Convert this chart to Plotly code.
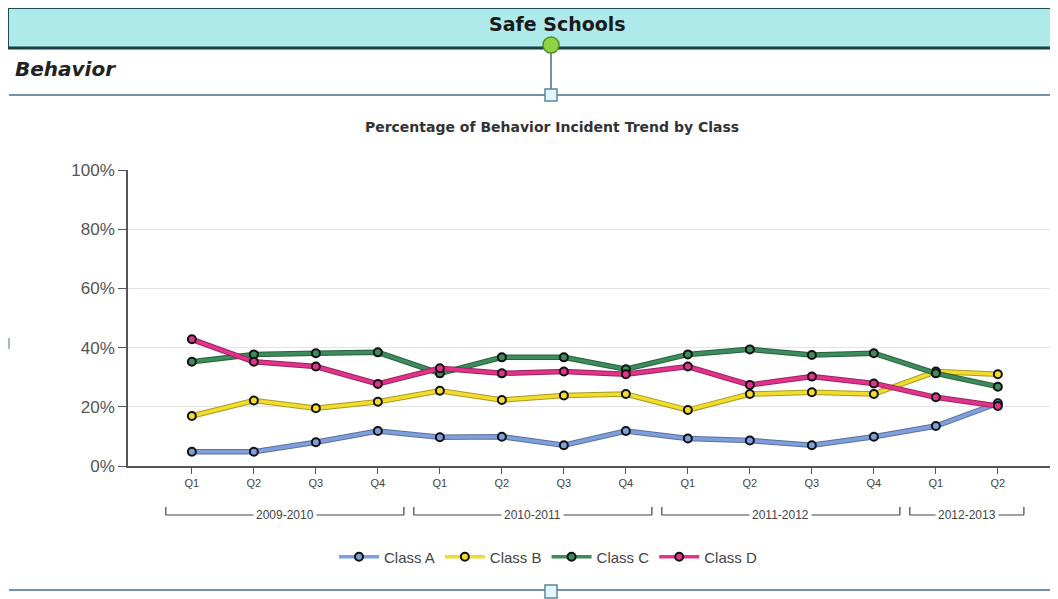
import plotly.graph_objects as go

quarters = ["Q1", "Q2", "Q3", "Q4", "Q1", "Q2", "Q3", "Q4", "Q1", "Q2", "Q3", "Q4", "Q1", "Q2"]
years = ["2009-2010", "2010-2011", "2011-2012", "2012-2013"]
year_counts = [4, 4, 4, 2]
y_ticks = [0, 20, 40, 60, 80, 100]
y_labels = ["0%", "20%", "40%", "60%", "80%", "100%"]

class_a = [4.8, 4.8, 8.0, 11.8, 9.7, 9.9, 7.0, 11.8, 9.3, 8.6, 7.0, 9.9, 13.5, 21.2]
class_b = [16.9, 22.1, 19.5, 21.7, 25.4, 22.3, 23.8, 24.3, 18.9, 24.3, 24.9, 24.3, 31.9, 31.0]
class_c = [35.2, 37.7, 38.1, 38.4, 31.3, 36.7, 36.7, 32.7, 37.7, 39.4, 37.5, 38.1, 31.3, 26.8]
class_d = [42.8, 35.2, 33.6, 27.7, 33.0, 31.3, 31.9, 31.0, 33.6, 27.4, 30.2, 27.9, 23.2, 20.3]

series = [
    ("Class A", class_a, "#7f9fdc", "#5a6f9a"),
    ("Class B", class_b, "#f2dc2c", "#a89a20"),
    ("Class C", class_c, "#3c8c5c", "#285f3e"),
    ("Class D", class_d, "#e2338c", "#9a2460"),
]

O = 8  # page body margin offset
W, H = 1058 - O, 599 - O
L, R, T, B = 128 - O, 0, 170 - O, 599 - 466
PW, PH = W - L - R, H - T - B


def px(x):
    return (x - O - L) / PW


def py(y):
    return (H - B - (y - O)) / PH


idx = list(range(len(quarters)))
fig = go.Figure()
for name, vals, col, dark in series:
    fig.add_trace(go.Scatter(
        x=idx, y=vals, mode="lines", showlegend=False, hoverinfo="skip",
        line=dict(color=dark, width=5.5),
    ))
    fig.add_trace(go.Scatter(
        x=idx, y=vals, name=name, mode="lines+markers",
        line=dict(color=col, width=3.5),
        marker=dict(size=8, color=col, line=dict(color="#111111", width=2)),
    ))

shapes = []
annos = []

# header bar
shapes.append(dict(type="rect", xref="paper", yref="paper", x0=px(8), x1=px(1064), y0=py(48), y1=py(8),
                   fillcolor="#aeeaea", line=dict(color="#1d4d55", width=2), layer="below"))
shapes.append(dict(type="line", xref="paper", yref="paper", x0=px(8), x1=px(1064), y0=py(48), y1=py(48),
                   line=dict(color="#1d3d45", width=3)))
annos.append(dict(text="<b>Safe Schools</b>", xref="paper", yref="paper", x=px(557), y=py(24),
                  xanchor="center", yanchor="middle",
                  showarrow=False, font=dict(family="DejaVu Sans", size=19, color="#1a1a1a")))
annos.append(dict(text="<b><i>Behavior</i></b>", xref="paper", yref="paper", x=px(13), y=py(69),
                  xanchor="left", yanchor="middle",
                  showarrow=False, font=dict(family="DejaVu Sans", size=20, color="#222222")))

# connector / separator lines
shapes.append(dict(type="line", xref="paper", yref="paper", x0=px(9), x1=px(1064), y0=py(95), y1=py(95),
                   line=dict(color="#7890a4", width=2)))
shapes.append(dict(type="line", xref="paper", yref="paper", x0=px(551), x1=px(551), y0=py(52), y1=py(90),
                   line=dict(color="#7890a4", width=2)))
shapes.append(dict(type="circle", xref="paper", yref="paper", x0=px(543), x1=px(559), y0=py(53), y1=py(37),
                   fillcolor="#8fd444", line=dict(color="#4f8f1f", width=1.5)))
shapes.append(dict(type="rect", xref="paper", yref="paper", x0=px(545), x1=px(557), y0=py(101), y1=py(89),
                   fillcolor="#e4f6fc", line=dict(color="#5b85a0", width=1.5)))
shapes.append(dict(type="line", xref="paper", yref="paper", x0=px(9), x1=px(1064), y0=py(590), y1=py(590),
                   line=dict(color="#7890a4", width=2)))
shapes.append(dict(type="rect", xref="paper", yref="paper", x0=px(545), x1=px(557), y0=py(598), y1=py(585),
                   fillcolor="#e4f6fc", line=dict(color="#5b85a0", width=1.5)))
shapes.append(dict(type="line", xref="paper", yref="paper", x0=px(9), x1=px(9), y0=py(338), y1=py(349),
                   line=dict(color="#8aa0b4", width=1.5)))

# year brackets
start = 0
by = py(515)
by_top = py(507)
for yr, cnt in zip(years, year_counts):
    a = start - 0.42
    b = start + cnt - 1 + 0.42
    shapes.append(dict(type="line", xref="x", yref="paper", x0=a, x1=b, y0=by, y1=by,
                       line=dict(color="#444444", width=1.2)))
    shapes.append(dict(type="line", xref="x", yref="paper", x0=a, x1=a, y0=by, y1=by_top,
                       line=dict(color="#444444", width=1.2)))
    shapes.append(dict(type="line", xref="x", yref="paper", x0=b, x1=b, y0=by, y1=by_top,
                       line=dict(color="#444444", width=1.2)))
    annos.append(dict(text=yr, xref="x", yref="paper", x=start + (cnt - 1) / 2, y=by,
                      xanchor="center", yanchor="middle",
                      showarrow=False, bgcolor="white", borderpad=2,
                      font=dict(family="Liberation Sans", size=12, color="#444444")))
    start += cnt

fig.update_layout(
    width=W, height=H,
    margin=dict(l=L, r=R, t=T, b=B, pad=0),
    paper_bgcolor="white", plot_bgcolor="white",
    title=dict(text="<b>Percentage of Behavior Incident Trend by Class</b>", x=(552 - O) / W, xanchor="center",
               y=1 - (127 - O) / H, yanchor="middle", font=dict(family="DejaVu Sans", size=14, color="#333333")),
    xaxis=dict(tickmode="array", tickvals=idx, ticktext=quarters, range=[-1.03, 13.97],
               showgrid=False, showline=True, linecolor="#555555", linewidth=1.5,
               ticks="outside", ticklen=6, tickcolor="#555555",
               tickfont=dict(family="Liberation Sans", size=11, color="#444444"), zeroline=False),
    yaxis=dict(range=[0, 100], tickmode="array", tickvals=y_ticks, ticktext=y_labels,
               showgrid=True, gridcolor="#e4e4e4", gridwidth=1,
               showline=True, linecolor="#555555", linewidth=1.5,
               ticks="outside", ticklen=8, tickcolor="#555555",
               tickfont=dict(family="Liberation Sans", size=17, color="#555555"), zeroline=False),
    legend=dict(orientation="h", x=px(548), xanchor="center", y=py(557), yanchor="middle",
                font=dict(family="Liberation Sans", size=15, color="#444444"),
                itemwidth=40, tracegroupgap=0),
    shapes=shapes, annotations=annos, showlegend=True,
)

fig.write_html("out.html")
